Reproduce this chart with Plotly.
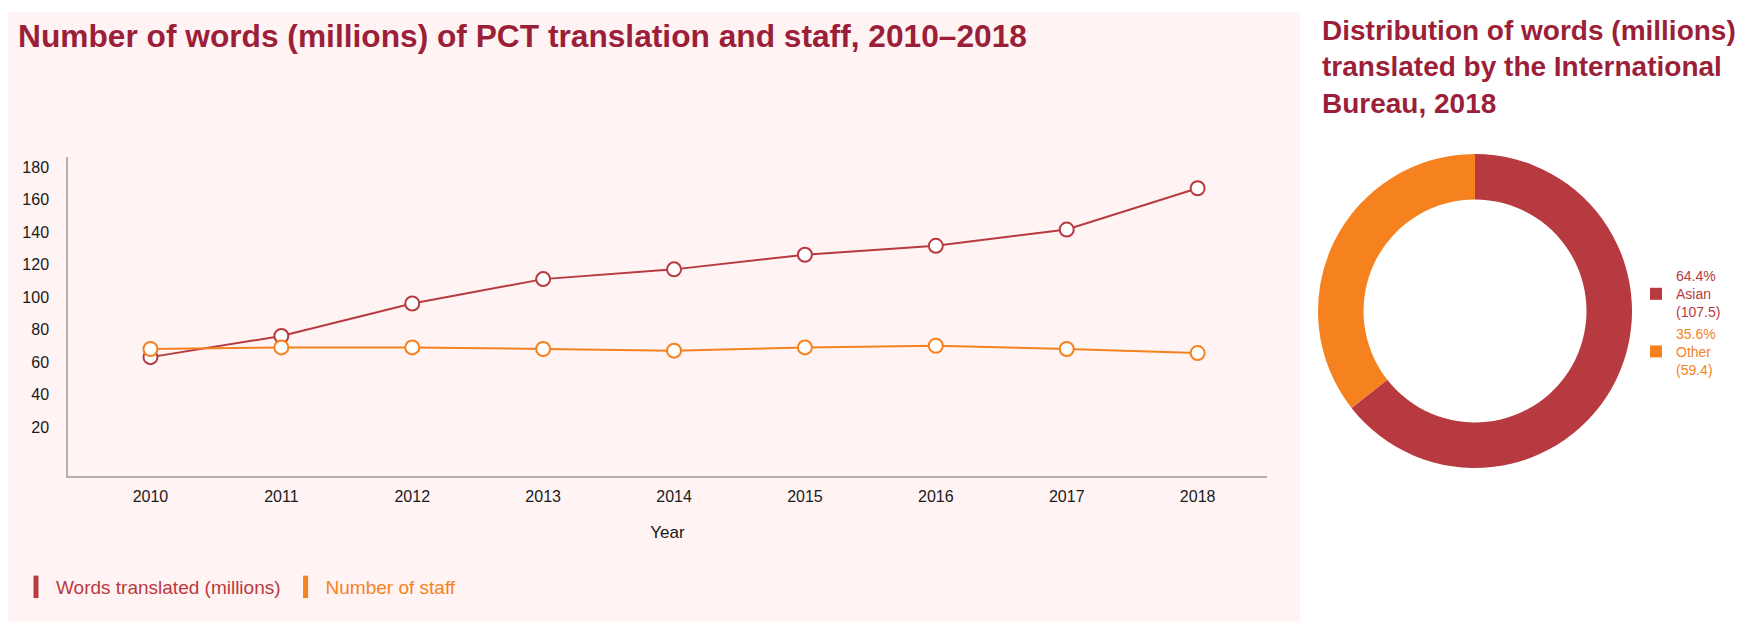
import plotly.graph_objects as go

W, H = 1756, 622

years = [2010, 2011, 2012, 2013, 2014, 2015, 2016, 2017, 2018]
words_translated = [63, 76, 96, 111, 117, 126, 131.5, 141.5, 166.9]
number_of_staff = [68, 69, 69, 68, 67, 69, 70, 68, 65.5]
y_tick_values = [20, 40, 60, 80, 100, 120, 140, 160, 180]

pie_labels = ["Asian", "Other"]
pie_values = [107.5, 59.4]
pie_pct = ["64.4%", "35.6%"]

RED = "#b83a41"
ORANGE = "#f5821f"
TITLE = "#9c1f3a"
PINK = "#fff3f3"
FONT = "Liberation Sans, Arial, sans-serif"

def px(x):
    return x / W

def py(y):
    return 1 - y / H

fig = go.Figure()

fig.add_trace(go.Scatter(
    x=years, y=words_translated, mode="lines+markers",
    name="Words translated (millions)", legendgroup="w", showlegend=False,
    line=dict(color=RED, width=2),
    marker=dict(size=14, color="white", line=dict(color=RED, width=2)),
))
fig.add_trace(go.Scatter(
    x=years, y=number_of_staff, mode="lines+markers",
    name="Number of staff", legendgroup="s", showlegend=False,
    line=dict(color=ORANGE, width=2),
    marker=dict(size=14, color="white", line=dict(color=ORANGE, width=2)),
))
# legend keys (bar-shaped)
fig.add_trace(go.Scatter(
    x=[None], y=[None], mode="markers", legendgroup="w",
    name=f"<span style='color:{RED}'>Words translated (millions)</span>",
    marker=dict(symbol="line-ns", size=16, line=dict(color=RED, width=6)),
    legend="legend",
))
fig.add_trace(go.Scatter(
    x=[None], y=[None], mode="markers", legendgroup="s",
    name=f"<span style='color:{ORANGE}'>Number of staff</span>",
    marker=dict(symbol="line-ns", size=16, line=dict(color=ORANGE, width=6)),
    legend="legend",
))

colors = [RED, ORANGE]
fig.add_trace(go.Pie(
    labels=[f"<span style='color:{c}'>{p}<br>{l}<br>({v})</span>"
            for c, p, l, v in zip(colors, pie_pct, pie_labels, pie_values)],
    values=pie_values,
    hole=0.71, sort=False, direction="clockwise", rotation=0,
    marker=dict(colors=colors, line=dict(width=0)),
    textinfo="none",
    domain=dict(x=[px(1310), px(1624)], y=[py(460), py(146)]),
    legend="legend2",
))

fig.update_layout(
    width=W, height=H,
    margin=dict(l=0, r=0, t=0, b=0),
    paper_bgcolor="white",
    plot_bgcolor="rgba(0,0,0,0)",
    font=dict(family=FONT, size=16, color="#1a1a1a"),
    xaxis=dict(
        domain=[px(60), px(1259)],
        range=[2009.37, 2018.53],
        tickvals=years, ticktext=[str(y) for y in years],
        showline=True, linecolor="#b0b0b0", linewidth=1.5,
        showgrid=False, zeroline=False, ticks="", ticklabelstandoff=5,
        tickfont=dict(size=16, color="#1a1a1a"),
        title=dict(text="Year", font=dict(size=17, color="#1a1a1a"), standoff=22),
    ),
    yaxis=dict(
        domain=[py(468), py(149)],
        range=[-10.15, 186.15],
        tickvals=y_tick_values,
        showline=True, linecolor="#b0b0b0", linewidth=1.5,
        showgrid=False, zeroline=False, ticks="", ticklabelstandoff=14,
        tickfont=dict(size=16, color="#1a1a1a"),
    ),
    legend=dict(
        orientation="h", x=px(8), y=py(579), xanchor="left", yanchor="middle",
        font=dict(size=19), bgcolor="rgba(0,0,0,0)", itemclick=False,
    ),
    legend2=dict(
        x=px(1628), y=py(252), xanchor="left", yanchor="top",
        font=dict(size=14), bgcolor="rgba(0,0,0,0)", tracegroupgap=0,
    ),
    shapes=[dict(type="rect", xref="paper", yref="paper",
                 x0=0, x1=px(1292), y0=0, y1=py(4),
                 fillcolor=PINK, line=dict(width=0), layer="below")],
    annotations=[
        dict(text="<b>Number of words (millions) of PCT translation and staff, 2010–2018</b>",
             x=px(8), y=py(28), xref="paper", yref="paper",
             xanchor="left", yanchor="middle", showarrow=False,
             font=dict(size=31.7, color=TITLE, family=FONT)),
        dict(text="<b>Distribution of words (millions)<br>translated by the International<br>Bureau, 2018</b>",
             x=px(1312), y=py(5), xref="paper", yref="paper",
             xanchor="left", yanchor="top", align="left", showarrow=False,
             font=dict(size=28, color=TITLE, family=FONT)),
    ],
)

fig.write_html("out.html")
